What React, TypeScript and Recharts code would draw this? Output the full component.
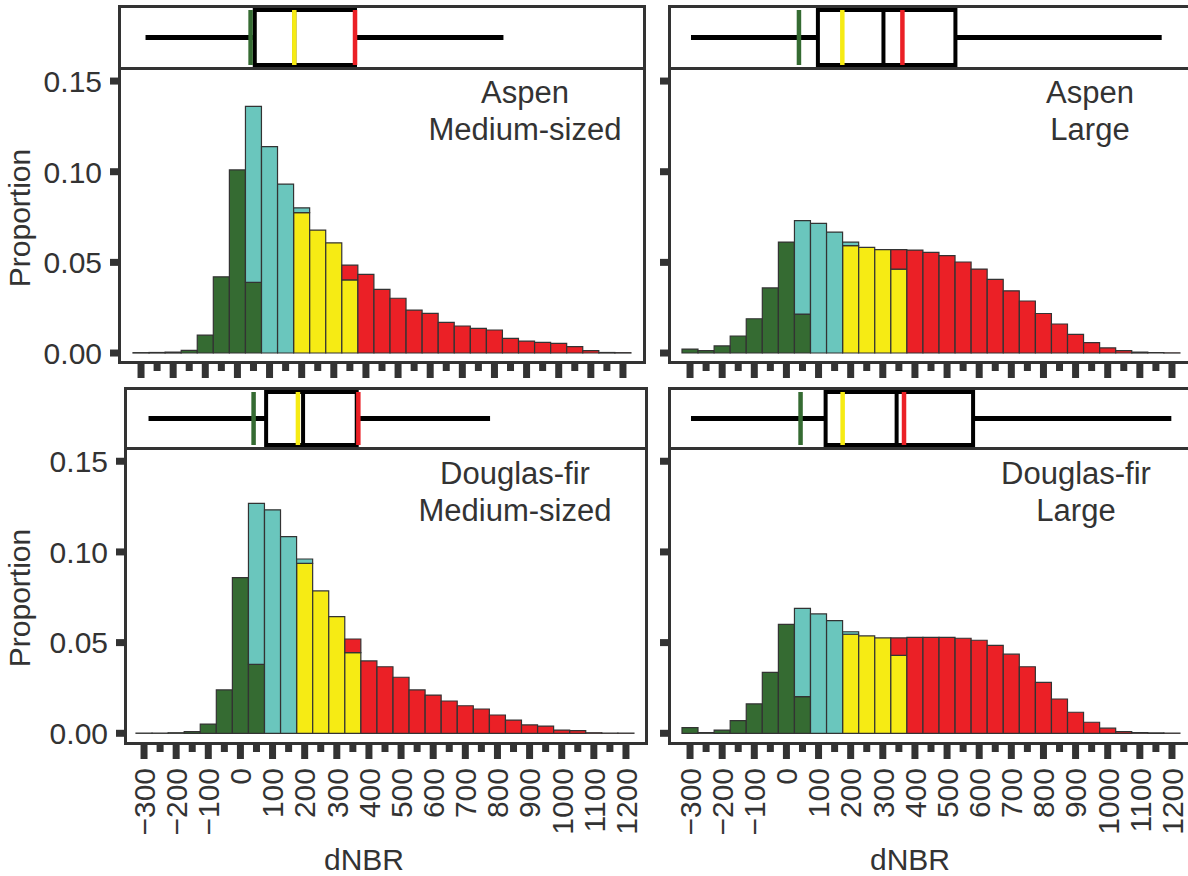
import React from 'react'
import {
  BarChart,
  Bar,
  XAxis,
  YAxis,
  ComposedChart,
  Line,
  ReferenceArea,
  ReferenceLine,
} from 'recharts'

// dNBR bin centres (50 wide)
const bins = [
  -300, -250, -200, -150, -100, -50, 0, 50, 100, 150, 200, 250, 300, 350, 400, 450,
  500, 550, 600, 650, 700, 750, 800, 850, 900, 950, 1000, 1050, 1100, 1150, 1200,
]

// Aspen, medium-sized
const aspenMedGreen = [0.0002, 0.0003, 0.0005, 0.0015, 0.0099, 0.042, 0.101, 0.039, 0, 0, 0, 0, 0, 0, 0, 0, 0, 0, 0, 0, 0, 0, 0, 0, 0, 0, 0, 0, 0, 0, 0]
const aspenMedTeal = [0, 0, 0, 0, 0, 0, 0, 0.097, 0.1138, 0.0932, 0.0027, 0, 0, 0, 0, 0, 0, 0, 0, 0, 0, 0, 0, 0, 0, 0, 0, 0, 0, 0, 0]
const aspenMedYellow = [0, 0, 0, 0, 0, 0, 0, 0, 0, 0, 0.0774, 0.0678, 0.0608, 0.0403, 0, 0, 0, 0, 0, 0, 0, 0, 0, 0, 0, 0, 0, 0, 0, 0, 0]
const aspenMedRed = [0, 0, 0, 0, 0, 0, 0, 0, 0, 0, 0, 0, 0, 0.0082, 0.0434, 0.0351, 0.0302, 0.0237, 0.0219, 0.0169, 0.0149, 0.0136, 0.0127, 0.0081, 0.0066, 0.0059, 0.0053, 0.0035, 0.0013, 0.0003, 0.0002]

// Aspen, large
const aspenLrgGreen = [0.0022, 0.0013, 0.0039, 0.0094, 0.0189, 0.0359, 0.0612, 0.0215, 0, 0, 0, 0, 0, 0, 0, 0, 0, 0, 0, 0, 0, 0, 0, 0, 0, 0, 0, 0, 0, 0, 0]
const aspenLrgTeal = [0, 0, 0, 0, 0, 0, 0, 0.0515, 0.0715, 0.0667, 0.002, 0, 0, 0, 0, 0, 0, 0, 0, 0, 0, 0, 0, 0, 0, 0, 0, 0, 0, 0, 0]
const aspenLrgYellow = [0, 0, 0, 0, 0, 0, 0, 0, 0, 0, 0.0592, 0.0583, 0.057, 0.0463, 0, 0, 0, 0, 0, 0, 0, 0, 0, 0, 0, 0, 0, 0, 0, 0, 0]
const aspenLrgRed = [0, 0, 0, 0, 0, 0, 0, 0, 0, 0, 0, 0, 0, 0.0107, 0.0568, 0.0555, 0.0537, 0.0502, 0.0463, 0.0406, 0.0343, 0.0287, 0.0218, 0.016, 0.0103, 0.0057, 0.0028, 0.0013, 0.0005, 0.0002, 0.0001]

// Douglas-fir, medium-sized
const dfirMedGreen = [0.0001, 0.0001, 0.0003, 0.0009, 0.0051, 0.0239, 0.0858, 0.038, 0, 0, 0, 0, 0, 0, 0, 0, 0, 0, 0, 0, 0, 0, 0, 0, 0, 0, 0, 0, 0, 0, 0]
const dfirMedTeal = [0, 0, 0, 0, 0, 0, 0, 0.0888, 0.1232, 0.1084, 0.0024, 0, 0, 0, 0, 0, 0, 0, 0, 0, 0, 0, 0, 0, 0, 0, 0, 0, 0, 0, 0]
const dfirMedYellow = [0, 0, 0, 0, 0, 0, 0, 0, 0, 0, 0.0937, 0.0785, 0.0643, 0.0445, 0, 0, 0, 0, 0, 0, 0, 0, 0, 0, 0, 0, 0, 0, 0, 0, 0]
const dfirMedRed = [0, 0, 0, 0, 0, 0, 0, 0, 0, 0, 0, 0, 0, 0.0075, 0.0399, 0.0367, 0.0309, 0.0239, 0.0211, 0.0178, 0.0152, 0.0134, 0.0101, 0.0073, 0.0046, 0.004, 0.0018, 0.0015, 0.0003, 0.0001, 0.0001]

// Douglas-fir, large
const dfirLrgGreen = [0.0031, 0.0004, 0.0018, 0.007, 0.0162, 0.0336, 0.0601, 0.0202, 0, 0, 0, 0, 0, 0, 0, 0, 0, 0, 0, 0, 0, 0, 0, 0, 0, 0, 0, 0, 0, 0, 0]
const dfirLrgTeal = [0, 0, 0, 0, 0, 0, 0, 0.0487, 0.0658, 0.0621, 0.0014, 0, 0, 0, 0, 0, 0, 0, 0, 0, 0, 0, 0, 0, 0, 0, 0, 0, 0, 0, 0]
const dfirLrgYellow = [0, 0, 0, 0, 0, 0, 0, 0, 0, 0, 0.0546, 0.0537, 0.0526, 0.043, 0, 0, 0, 0, 0, 0, 0, 0, 0, 0, 0, 0, 0, 0, 0, 0, 0]
const dfirLrgRed = [0, 0, 0, 0, 0, 0, 0, 0, 0, 0, 0, 0, 0, 0.0096, 0.0529, 0.0529, 0.0529, 0.0524, 0.0513, 0.0485, 0.0436, 0.0367, 0.0281, 0.0189, 0.0116, 0.0061, 0.0028, 0.0009, 0.0004, 0.0002, 0.0001]

// box plots: min, q1, median, q3, max
const aspenMedBox = [-286, 54, 177, 366, 828]
const aspenLrgBox = [-297, 98, 302, 526, 1168]
const dfirMedBox = [-286, 80, 195, 362, 777]
const dfirLrgBox = [-297, 122, 343, 581, 1198]

// severity thresholds: green, yellow, red
const aspenMedCuts = [41, 177, 366]
const aspenLrgCuts = [39, 174, 361]
const dfirMedCuts = [41, 179, 367]
const dfirLrgCuts = [44, 175, 366]

const yTicks = [0, 0.05, 0.1, 0.15]
const yTickLabels = ['0.00', '0.05', '0.10', '0.15']

const GREEN = '#356b32'
const TEAL = '#6ac6bd'
const YELLOW = '#f6eb14'
const RED = '#eb2026'
const INK = '#333333'

const buildRows = (g: number[], t: number[], y: number[], r: number[]) =>
  bins.map((bin, i) => ({ bin, green: g[i], teal: t[i], yellow: y[i], red: r[i] }))

const fmt = (v: number) => (v < 0 ? '\u2212' + Math.abs(v) : String(v))

function XTick(props: any) {
  const { x, y, payload, showLabel } = props
  const v = payload.value
  const major = v % 100 === 0
  return (
    <g>
      <rect x={x - 3.5} y={y + 3} width={7} height={major ? 14 : 7} fill={INK} />
      {showLabel && major && (
        <text
          transform={`translate(${x},${y + 26}) rotate(-90)`}
          textAnchor="end"
          dy="0.36em"
          fontSize={30}
          fill={INK}
        >
          {fmt(v)}
        </text>
      )}
    </g>
  )
}

function YTick(props: any) {
  const { x, y, payload, showLabel } = props
  const idx = yTicks.indexOf(payload.value)
  return (
    <g>
      <rect x={x - 11} y={y - 3.5} width={8} height={7} fill={INK} />
      {showLabel && (
        <text x={x - 19} y={y} dy="0.36em" textAnchor="end" fontSize={30} fill={INK}>
          {yTickLabels[idx]}
        </text>
      )}
    </g>
  )
}

type PanelProps = {
  x: number
  w: number
  stripTop: number
  stripBottom: number
  histBottom: number
  padL: number
  padR: number
  yDomain: [number, number]
  labelLeft: boolean
  labelBottom: boolean
  rows: any[]
  box: number[]
  cuts: number[]
}

function Panel(p: PanelProps) {
  const innerLeft = p.x + 3
  const innerW = p.w - 6
  const stripInnerTop = p.stripTop + 3
  const stripInnerH = p.stripBottom - p.stripTop - 6
  const plotTop = p.stripBottom
  const plotH = p.histBottom - 3 - p.stripBottom
  const axisW = p.labelLeft ? 121 : 24
  const xAxisH = p.labelBottom ? 110 : 24
  const [mn, q1, med, q3, mx] = p.box

  const whisker = [
    { x: mn, y: 0.5 },
    { x: q1, y: 0.5 },
    { x: q1, y: null },
    { x: q3, y: 0.5 },
    { x: mx, y: 0.5 },
  ]

  return (
    <>
      <div style={{ position: 'absolute', left: innerLeft, top: stripInnerTop }}>
        <ComposedChart
          width={innerW}
          height={stripInnerH}
          data={whisker}
          margin={{ top: 2, bottom: 2, left: p.padL, right: p.padR }}
        >
          <XAxis type="number" dataKey="x" domain={[-325, 1225]} allowDataOverflow hide />
          <YAxis type="number" domain={[0, 1]} allowDataOverflow hide />
          <Line
            dataKey="y"
            stroke="#000"
            strokeWidth={5}
            dot={false}
            connectNulls={false}
            isAnimationActive={false}
          />
          <ReferenceArea
            x1={q1}
            x2={q3}
            y1={0}
            y2={1}
            fill="#fff"
            fillOpacity={1}
            stroke="#000"
            strokeWidth={4}
            ifOverflow="visible"
          />
          <ReferenceLine x={med} stroke="#000" strokeWidth={4} ifOverflow="visible" />
          <ReferenceLine x={p.cuts[0]} stroke={GREEN} strokeWidth={4.5} ifOverflow="visible" />
          <ReferenceLine x={p.cuts[1]} stroke={YELLOW} strokeWidth={4.5} ifOverflow="visible" />
          <ReferenceLine x={p.cuts[2]} stroke={RED} strokeWidth={4.5} ifOverflow="visible" />
        </ComposedChart>
      </div>
      <div
        style={{
          position: 'absolute',
          left: p.x,
          top: p.stripTop,
          width: p.w,
          height: p.stripBottom - p.stripTop,
          border: `3px solid ${INK}`,
          boxSizing: 'border-box',
        }}
      />
      <div style={{ position: 'absolute', left: innerLeft - axisW, top: plotTop - 12 }}>
        <BarChart
          width={axisW + innerW + 12}
          height={12 + plotH + xAxisH}
          data={p.rows}
          barCategoryGap={0}
          barGap={0}
          margin={{ top: 12, right: 12, left: 0, bottom: 0 }}
        >
          <XAxis
            dataKey="bin"
            interval={0}
            axisLine={false}
            tickLine={false}
            tickSize={0}
            tickMargin={0}
            height={xAxisH}
            padding={{ left: p.padL, right: p.padR }}
            tick={(t: any) => <XTick {...t} showLabel={p.labelBottom} />}
          />
          <YAxis
            type="number"
            domain={p.yDomain}
            allowDataOverflow
            ticks={yTicks}
            axisLine={false}
            tickLine={false}
            tickSize={0}
            tickMargin={0}
            width={axisW}
            tick={(t: any) => <YTick {...t} showLabel={p.labelLeft} />}
          />
          <Bar dataKey="green" stackId="a" fill={GREEN} stroke={INK} strokeWidth={1.2} isAnimationActive={false} />
          <Bar dataKey="yellow" stackId="a" fill={YELLOW} stroke={INK} strokeWidth={1.2} isAnimationActive={false} />
          <Bar dataKey="teal" stackId="a" fill={TEAL} stroke={INK} strokeWidth={1.2} isAnimationActive={false} />
          <Bar dataKey="red" stackId="a" fill={RED} stroke={INK} strokeWidth={1.2} isAnimationActive={false} />
        </BarChart>
      </div>
      <div
        style={{
          position: 'absolute',
          left: p.x,
          top: p.stripBottom - 3,
          width: p.w,
          height: p.histBottom - p.stripBottom + 3,
          border: `3px solid ${INK}`,
          boxSizing: 'border-box',
        }}
      />
    </>
  )
}

export default function App() {
  const topDomain: [number, number] = [-0.0044, 0.1561]
  const bottomDomain: [number, number] = [-0.0048, 0.1562]
  return (
    <div
      style={{
        position: 'absolute',
        left: 0,
        top: 0,
        width: 1188,
        height: 876,
        overflow: 'hidden',
        background: '#fff',
        fontFamily: '"Liberation Sans", Arial, sans-serif',
        color: INK,
      }}
    >
      <Panel
        x={118} w={528} stripTop={5} stripBottom={70} histBottom={364} padL={12} padR={12}
        yDomain={topDomain} labelLeft labelBottom={false}
        rows={buildRows(aspenMedGreen, aspenMedTeal, aspenMedYellow, aspenMedRed)}
        box={aspenMedBox} cuts={aspenMedCuts}
      />
      <Panel
        x={668} w={528} stripTop={5} stripBottom={70} histBottom={364} padL={11} padR={13}
        yDomain={topDomain} labelLeft={false} labelBottom={false}
        rows={buildRows(aspenLrgGreen, aspenLrgTeal, aspenLrgYellow, aspenLrgRed)}
        box={aspenLrgBox} cuts={aspenLrgCuts}
      />
      <Panel
        x={124} w={524} stripTop={387} stripBottom={450} histBottom={745} padL={9} padR={11}
        yDomain={bottomDomain} labelLeft labelBottom
        rows={buildRows(dfirMedGreen, dfirMedTeal, dfirMedYellow, dfirMedRed)}
        box={dfirMedBox} cuts={dfirMedCuts}
      />
      <Panel
        x={668} w={528} stripTop={387} stripBottom={450} histBottom={745} padL={11} padR={13}
        yDomain={bottomDomain} labelLeft={false} labelBottom
        rows={buildRows(dfirLrgGreen, dfirLrgTeal, dfirLrgYellow, dfirLrgRed)}
        box={dfirLrgBox} cuts={dfirLrgCuts}
      />
      <svg
        width={1188}
        height={876}
        style={{ position: 'absolute', left: 0, top: 0, pointerEvents: 'none' }}
      >
        <g fontSize={31} fill={INK} textAnchor="middle">
          <text x={525} y={103}>Aspen</text>
          <text x={525} y={140}>Medium-sized</text>
          <text x={1090} y={103}>Aspen</text>
          <text x={1090} y={140}>Large</text>
          <text x={515} y={484}>Douglas-fir</text>
          <text x={515} y={521}>Medium-sized</text>
          <text x={1076} y={484}>Douglas-fir</text>
          <text x={1076} y={521}>Large</text>
        </g>
        <g fontSize={30} fill={INK} textAnchor="middle">
          <text transform="translate(30,218) rotate(-90)">Proportion</text>
          <text transform="translate(30,598) rotate(-90)">Proportion</text>
          <text x={364} y={870}>dNBR</text>
          <text x={910} y={870}>dNBR</text>
        </g>
      </svg>
    </div>
  )
}
